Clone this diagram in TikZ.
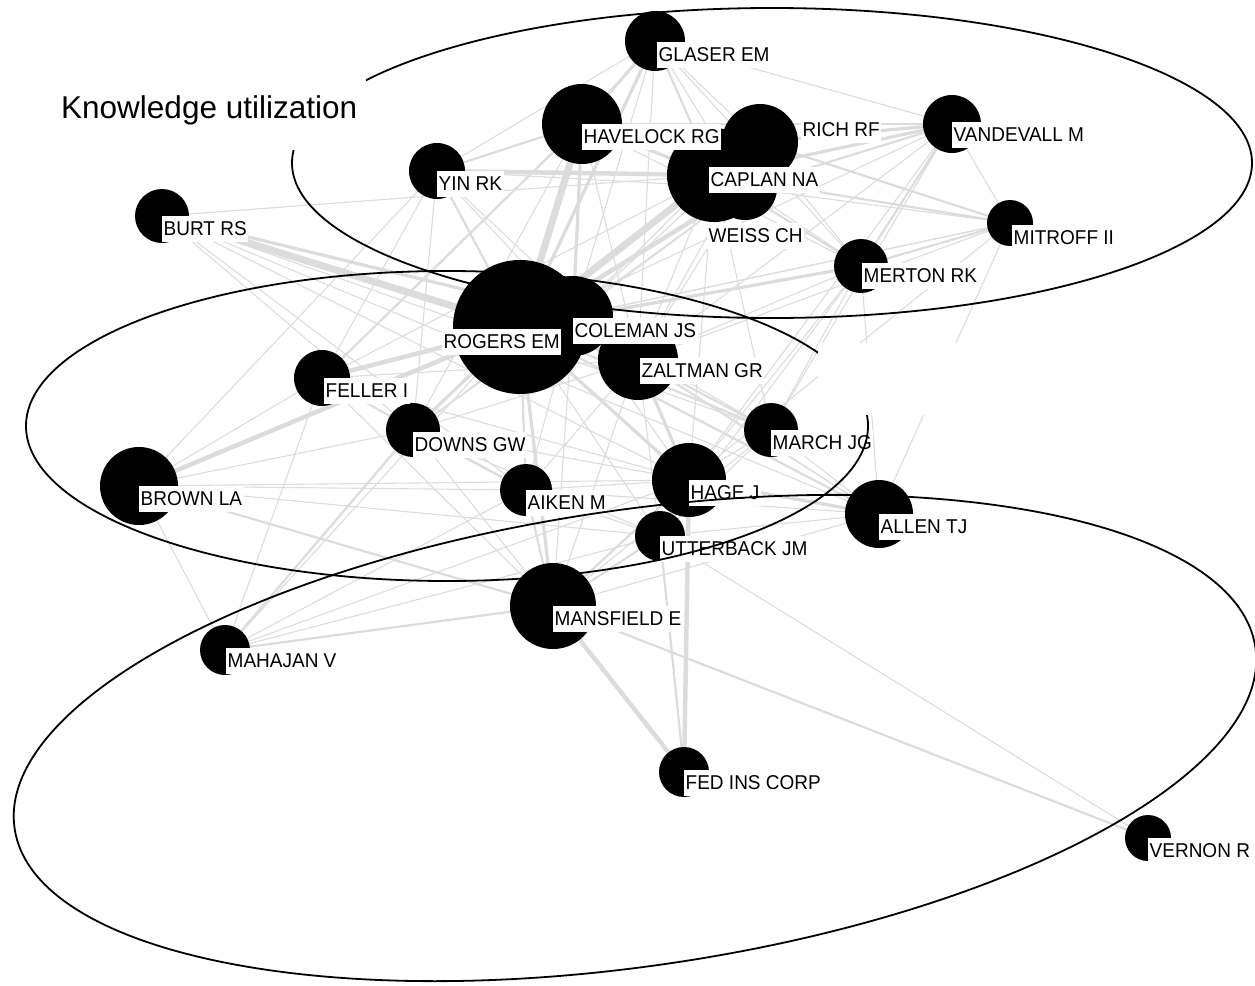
\documentclass[tikz,border=0pt]{standalone}
\usepackage{fontspec}
\setmainfont{Liberation Sans}
\newfontfamily\lblfont[FakeStretch=0.95]{Liberation Sans}
\definecolor{edgegray}{RGB}{220,220,220}
\begin{document}
\begin{tikzpicture}[x=1pt,y=-1pt,
  actor/.style={circle, fill=black, draw=none, inner sep=0pt, minimum size=#1},
  tag/.style={anchor=north west, fill=white, inner xsep=1.5pt, inner ysep=0pt,
    text height=19pt, text depth=7pt, font=\lblfont\fontsize{20}{24}\selectfont},
  tie/.style={draw=edgegray, line cap=round},
  e1/.style={tie, line width=1.1pt},
  e2/.style={tie, line width=2.2pt},
  e3/.style={tie, line width=3.2pt},
  e4/.style={tie, line width=4.5pt},
  e5/.style={tie, line width=7pt},
  group/.style={draw=black, line width=1.8pt}]
\useasboundingbox (0,0) rectangle (1255,985);

% actors (circle diameter = 2 x radius)
\coordinate (p-glaser) at (655,41);
\coordinate (p-havelock) at (582,124);
\coordinate (p-rich) at (760,142);
\coordinate (p-caplan) at (714,175);
\coordinate (p-weiss) at (745,188);
\coordinate (p-yin) at (437,171);
\coordinate (p-vandevall) at (952,124);
\coordinate (p-mitroff) at (1010,223);
\coordinate (p-merton) at (861,266);
\coordinate (p-burt) at (162,216);
\coordinate (p-rogers) at (520,327);
\coordinate (p-coleman) at (573,316);
\coordinate (p-zaltman) at (638,360);
\coordinate (p-feller) at (322,378);
\coordinate (p-downs) at (413,430);
\coordinate (p-brown) at (139,486);
\coordinate (p-aiken) at (526,490);
\coordinate (p-hage) at (689,480);
\coordinate (p-march) at (771,430);
\coordinate (p-utterback) at (660,536);
\coordinate (p-allen) at (879,514);
\coordinate (p-mansfield) at (553,606);
\coordinate (p-fedins) at (684,772);
\coordinate (p-mahajan) at (225,650);
\coordinate (p-vernon) at (1148,838);

% ties between actors
\foreach \a/\b in {burt/rogers, havelock/rogers, caplan/rogers}
  \draw[e5] (p-\a) -- (p-\b);
\foreach \a/\b in {feller/rogers, brown/rogers, yin/caplan, hage/fedins,
    mansfield/fedins, weiss/rogers}
  \draw[e4] (p-\a) -- (p-\b);
\foreach \a/\b in {glaser/rogers, havelock/caplan, merton/rogers, vandevall/caplan,
    vandevall/rich, zaltman/hage, rogers/hage, rogers/downs, rogers/mansfield,
    rogers/zaltman, allen/hage, coleman/havelock, glaser/havelock, burt/coleman}
  \draw[e3] (p-\a) -- (p-\b);
\foreach \a/\b in {mitroff/caplan, utterback/fedins, mansfield/vernon,
    mahajan/mansfield, mahajan/downs, brown/mansfield, aiken/mansfield,
    hage/mansfield, glaser/caplan, yin/havelock, rich/rogers, vandevall/merton,
    mitroff/merton, merton/caplan, feller/coleman, rogers/aiken, rogers/march,
    rogers/allen, zaltman/march, coleman/zaltman, downs/aiken, feller/havelock,
    yin/rogers, weiss/vandevall, rich/mitroff, burt/zaltman, utterback/mansfield}
  \draw[e2] (p-\a) -- (p-\b);
\foreach \a/\b in {glaser/vandevall, glaser/yin, glaser/weiss, glaser/rich,
    glaser/coleman, glaser/zaltman, glaser/merton, havelock/rich, havelock/weiss,
    havelock/zaltman, havelock/vandevall, havelock/merton, havelock/downs,
    yin/feller, yin/downs, yin/weiss, yin/coleman, yin/zaltman, yin/brown,
    caplan/coleman, caplan/zaltman, caplan/feller, caplan/burt, caplan/hage,
    caplan/march, rich/merton, rich/coleman, rich/zaltman, weiss/mitroff,
    weiss/merton, weiss/coleman, weiss/zaltman, weiss/downs, vandevall/mitroff,
    vandevall/rogers, vandevall/zaltman, vandevall/hage, vandevall/march,
    mitroff/rogers, mitroff/coleman, mitroff/zaltman, mitroff/allen, mitroff/hage,
    merton/coleman, merton/zaltman, merton/hage, merton/march, merton/allen,
    merton/utterback, burt/hage, burt/march, burt/aiken, burt/downs, burt/allen,
    rogers/utterback, rogers/mahajan, coleman/hage, coleman/march, coleman/aiken,
    coleman/mansfield, coleman/downs, coleman/allen, zaltman/allen,
    zaltman/utterback, zaltman/mansfield, zaltman/feller, zaltman/downs,
    zaltman/aiken, feller/downs, feller/brown, feller/aiken, feller/hage,
    feller/mansfield, feller/mahajan, downs/hage, downs/brown, downs/mansfield,
    downs/utterback, brown/mahajan, brown/utterback, brown/hage, brown/aiken,
    aiken/hage, aiken/mahajan, aiken/utterback, hage/utterback, hage/march,
    hage/mahajan, march/allen, march/utterback, march/mansfield, utterback/vernon,
    utterback/allen, utterback/mahajan, allen/mansfield, allen/aiken}
  \draw[e1] (p-\a) -- (p-\b);

% circles
\node[actor=60] (glaser) at (p-glaser) {};
\node[actor=80] (havelock) at (p-havelock) {};
\node[actor=76] (rich) at (p-rich) {};
\node[actor=94] (caplan) at (p-caplan) {};
\node[actor=64] (weiss) at (p-weiss) {};
\node[actor=56] (yin) at (p-yin) {};
\node[actor=58] (vandevall) at (p-vandevall) {};
\node[actor=46] (mitroff) at (p-mitroff) {};
\node[actor=54] (merton) at (p-merton) {};
\node[actor=54] (burt) at (p-burt) {};
\node[actor=134] (rogers) at (p-rogers) {};
\node[actor=80] (coleman) at (p-coleman) {};
\node[actor=80] (zaltman) at (p-zaltman) {};
\node[actor=56] (feller) at (p-feller) {};
\node[actor=54] (downs) at (p-downs) {};
\node[actor=78] (brown) at (p-brown) {};
\node[actor=52] (aiken) at (p-aiken) {};
\node[actor=74] (hage) at (p-hage) {};
\node[actor=54] (march) at (p-march) {};
\node[actor=50] (utterback) at (p-utterback) {};
\node[actor=68] (allen) at (p-allen) {};
\node[actor=86] (mansfield) at (p-mansfield) {};
\node[actor=50] (fedins) at (p-fedins) {};
\node[actor=50] (mahajan) at (p-mahajan) {};
\node[actor=46] (vernon) at (p-vernon) {};

% name tags
\node[tag] (t-glaser) at ([shift={(2,1)}]glaser.center) {GLASER EM};
\node[tag] (t-havelock) at (havelock.center) {HAVELOCK RG};
\node[tag] (t-rich) at (801,117) {RICH RF};
\node[tag] (t-caplan) at (709,167) {CAPLAN NA};
\node[tag] (t-weiss) at (707,223) {WEISS CH};
\node[tag] (t-yin) at (yin.center) {YIN RK};
\node[tag] (t-vandevall) at ([shift={(0,-2)}]vandevall.center) {VANDEVALL M};
\node[tag] (t-mitroff) at ([shift={(2,2)}]mitroff.center) {MITROFF II};
\node[tag] (t-merton) at ([shift={(1,-3)}]merton.center) {MERTON RK};
\node[tag] (t-burt) at (burt.center) {BURT RS};
\node[tag] (t-rogers) at (442,329) {ROGERS EM};
\node[tag] (t-coleman) at ([shift={(0,2)}]coleman.center) {COLEMAN JS};
\node[tag] (t-zaltman) at ([shift={(2,-2)}]zaltman.center) {ZALTMAN GR};
\node[tag] (t-feller) at ([shift={(2,0)}]feller.center) {FELLER I};
\node[tag] (t-downs) at ([shift={(0,2)}]downs.center) {DOWNS GW};
\node[tag] (t-brown) at (brown.center) {BROWN LA};
\node[tag] (t-aiken) at (aiken.center) {AIKEN M};
\node[tag] (t-hage) at (hage.center) {HAGE J};
\node[tag] (t-march) at (march.center) {MARCH JG};
\node[tag] (t-utterback) at (utterback.center) {UTTERBACK JM};
\node[tag] (t-allen) at (allen.center) {ALLEN TJ};
\node[tag] (t-mansfield) at (mansfield.center) {MANSFIELD E};
\node[tag] (t-fedins) at ([shift={(0,-2)}]fedins.center) {FED INS CORP};
\node[tag] (t-mahajan) at ([shift={(1,-2)}]mahajan.center) {MAHAJAN V};
\node[tag] (t-vernon) at (vernon.center) {VERNON R};

% groups
\draw[group] (772,163) ellipse (480 and 155);
\draw[group] (447,426) ellipse (421 and 155);
\draw[group, rotate around={8.3:(635,738)}] (635,738) ellipse (627 and 228);

% blank patches over the drawing
\fill[white] (818,343) rectangle (1000,415);
\fill[white] (50,56) rectangle (366,150);
\node[anchor=base west, inner sep=0pt, font=\fontsize{31.5}{36}\selectfont]
  (kulabel) at (61,118) {Knowledge utilization};
\end{tikzpicture}
\end{document}
